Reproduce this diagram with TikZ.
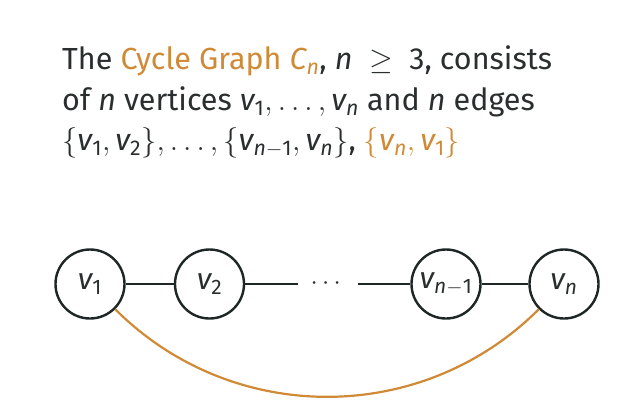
\documentclass[tikz,border=0pt]{standalone}
\usepackage{fix-cm}
\usepackage{amsmath}
\usepackage{fontspec}
\setmainfont{Fira Sans}
\usetikzlibrary{positioning}
\definecolor{cycleorange}{HTML}{D08A36}
\definecolor{textgray}{HTML}{2A2E2E}
\definecolor{ringgray}{HTML}{1F2626}

% vertex name with sans italic v
\newcommand{\vx}[1]{\textit{v}_{#1}}
\newcommand{\nn}{\textit{n}}

\begin{document}
\begin{tikzpicture}[
    x=1pt, y=-1pt,
    vertex/.style={circle, draw=ringgray, line width=2.4pt, minimum size=69pt,
                   inner sep=0pt, font=\fontsize{30}{32}\selectfont, text=textgray},
    edge/.style={draw=ringgray, line width=2.2pt},
    cycleedge/.style={draw=cycleorange, line width=2.2pt},
    intro/.style={anchor=north west, inner sep=0pt, align=left, text=textgray,
                  font=\fontsize{30.5}{40.5}\selectfont}
  ]
    \useasboundingbox (0,0) rectangle (624,416);

    %% definition text
    \node[intro] (intro) at (62,46) {The \textcolor{cycleorange}{Cycle Graph $\textit{C}_{\nn}$}, $\nn\ \geq\ \textup{3}$, consists\\
      of $\nn$ vertices $\vx{\textup{1}},\ldots,\vx{\nn}$ and $\nn$ edges\\
      $\{\vx{\textup{1}},\vx{\textup{2}}\},\ldots,\{\vx{\nn-\textup{1}},\vx{\nn}\}$,
      \textcolor{cycleorange}{$\{\vx{\nn},\vx{\textup{1}}\}$}};

    %% the path v1 ... vn
    \node[vertex] (v1) at (90,284) {$\vx{\textup{1}}$};
    \node[vertex] (v2) at (209.5,284) {$\vx{\textup{2}}$};
    \node[inner sep=0pt, minimum width=60pt, font=\fontsize{26}{30}\selectfont,
          text=textgray] (dots) at (328,284) {$\cdots$};
    \node[vertex] (vm) at (446,284) {$\vx{\nn-\textup{1}}$};
    \node[vertex] (vn) at (564,284) {$\vx{\nn}$};

    \draw[edge] (v1) -- (v2);
    \draw[edge] (v2) -- (dots);
    \draw[edge] (dots) -- (vm);
    \draw[edge] (vm) -- (vn);

    %% closing edge
    \draw[cycleedge] (v1) to[bend right=45] (vn);
\end{tikzpicture}
\end{document}
